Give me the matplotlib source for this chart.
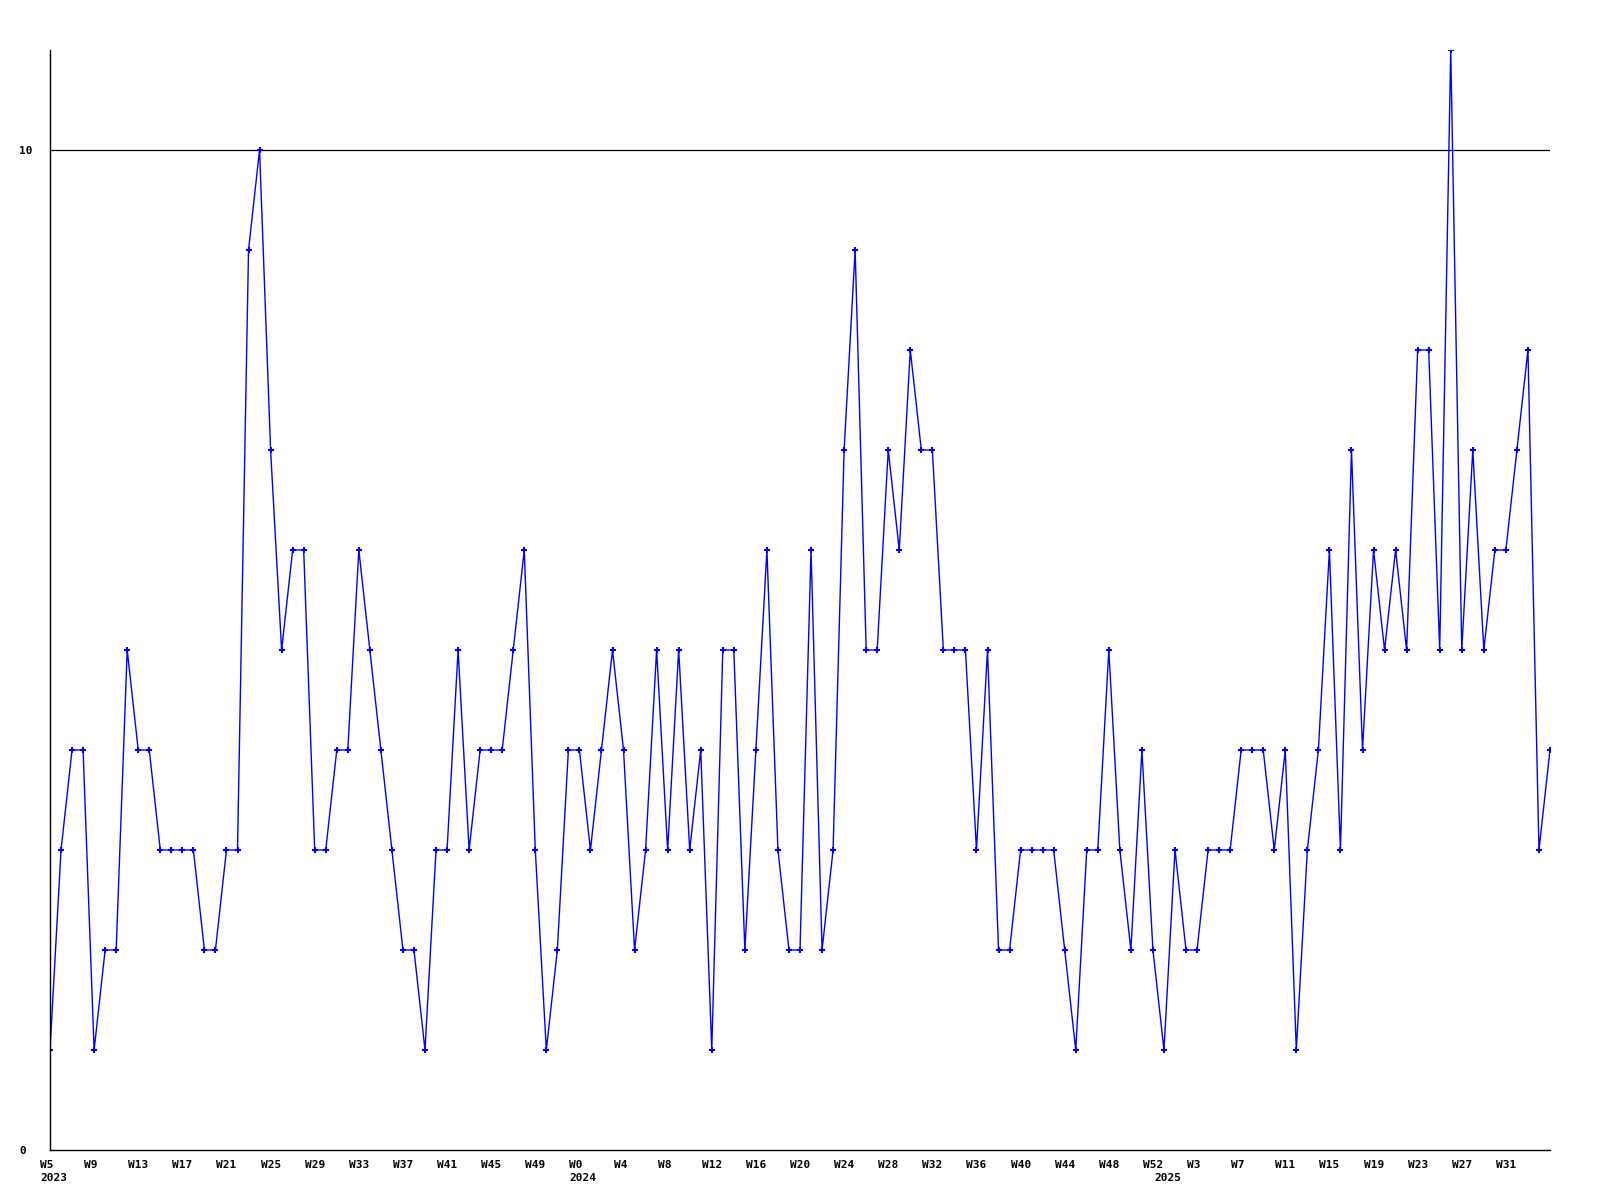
import matplotlib
matplotlib.use('Agg')
import matplotlib.pyplot as plt
import matplotlib.transforms as mtransforms

# weekly counts, one list per year
weeks_2023 = list(range(5, 53))
vals_2023 = [1, 3, 4, 4, 1, 2, 2, 5, 4, 4,
             3, 3, 3, 3, 2, 2, 3, 3, 9, 10,
             7, 5, 6, 6, 3, 3, 4, 4, 6, 5,
             4, 3, 2, 2, 1, 3, 3, 5, 3, 4,
             4, 4, 5, 6, 3, 1, 2, 4]
weeks_2024 = list(range(0, 53))
vals_2024 = [4, 3, 4, 5, 4, 2, 3, 5, 3, 5,
             3, 4, 1, 5, 5, 2, 4, 6, 3, 2,
             2, 6, 2, 3, 7, 9, 5, 5, 7, 6,
             8, 7, 7, 5, 5, 5, 3, 5, 2, 2,
             3, 3, 3, 3, 2, 1, 3, 3, 5, 3,
             2, 4, 2]
weeks_2025 = list(range(0, 36))
vals_2025 = [1, 3, 2, 2, 3, 3, 3, 4, 4, 4,
             3, 4, 1, 3, 4, 6, 3, 7, 4, 6,
             5, 6, 5, 8, 8, 5, 11, 5, 7, 5,
             6, 6, 7, 8, 3, 4]
years = ['2023', '2024', '2025']

weeks = weeks_2023 + weeks_2024 + weeks_2025
values = vals_2023 + vals_2024 + vals_2025
x = list(range(len(values)))
year_starts = [0, len(weeks_2023), len(weeks_2023) + len(weeks_2024)]

mono = {'family': 'DejaVu Sans Mono', 'weight': 'bold', 'size': 8}

fig = plt.figure(figsize=(16, 12), dpi=100)
ax = fig.add_axes([50 / 1600, 50 / 1200, 1500 / 1600, 1100 / 1200])

ax.plot(x, values, color='#0000ff', linewidth=1.0, marker='+',
        markersize=5, markeredgewidth=1.5)
ax.axhline(10, color='black', linewidth=0.9, zorder=0)

ax.set_xlim(0, len(values) - 1)
ax.set_ylim(0, 11)

for side in ['top', 'right']:
    ax.spines[side].set_visible(False)
for side in ['left', 'bottom']:
    ax.spines[side].set_color('black')
    ax.spines[side].set_linewidth(1.0)

# x labels: week number, left edge ~10px before the point, year below
tick_idx = list(range(0, len(values) - 1, 4))
ax.set_xticks(tick_idx)
ax.set_xticklabels([])
ax.tick_params(axis='x', length=0)
shift = mtransforms.ScaledTranslation(-10 / 100, 0, fig.dpi_scale_trans)
trans = mtransforms.blended_transform_factory(ax.transData, ax.transAxes) + shift
for i in tick_idx:
    ax.text(i, -15 / 1100, 'W' + str(weeks[i]), transform=trans,
            ha='left', va='center', fontdict=mono, clip_on=False)
for i, yr in zip(year_starts, years):
    ax.text(i, -28 / 1100, yr, transform=trans, ha='left', va='center',
            fontdict=mono, clip_on=False)

ax.set_yticks([0, 10])
ax.set_yticklabels(['0', '10'], fontdict=mono)
ax.tick_params(axis='y', length=0, pad=22)
for lab in ax.get_yticklabels():
    lab.set_horizontalalignment('left')

fig.savefig('out.png', dpi=100, facecolor='white')
